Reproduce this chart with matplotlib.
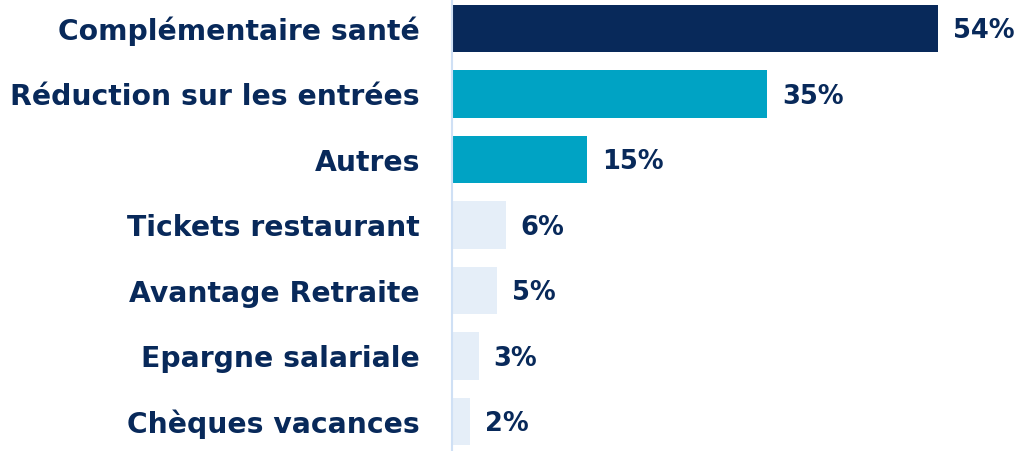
import matplotlib
matplotlib.use("Agg")
import matplotlib.pyplot as plt

categories = ["Complémentaire santé", "Réduction sur les entrées", "Autres",
              "Tickets restaurant", "Avantage Retraite", "Epargne salariale",
              "Chèques vacances"]
values = [54, 35, 15, 6, 5, 3, 2]
value_labels = ["54%", "35%", "15%", "6%", "5%", "3%", "2%"]

navy = "#08295a"
teal = "#00a3c4"
light = "#e5eef8"
colors = [navy, teal, teal, light, light, light, light]

fig = plt.figure(figsize=(10.15, 4.51), dpi=100)
ax = fig.add_axes([452/1015, 0, 1 - 452/1015, 1])
y = list(range(len(categories)))
ax.barh(y, values, height=0.72, color=colors)
ax.set_ylim(6.45, -0.435)
ax.set_xlim(0, 62.5)
for s in ["top", "right", "bottom"]:
    ax.spines[s].set_visible(False)
ax.spines["left"].set_color("#cfe0f5")
ax.spines["left"].set_linewidth(1.5)
ax.set_xticks([])
ax.set_yticks(y)
ax.set_yticklabels(categories, fontsize=20.3, fontweight="heavy", color=navy)
ax.tick_params(axis="y", length=0, pad=23)
for yi, v, lab in zip(y, values, value_labels):
    ax.annotate(lab, (v, yi), xytext=(10.5, -2), textcoords="offset points",
                va="center", ha="left", fontsize=18.5, fontweight="heavy",
                color=navy, annotation_clip=False)
fig.savefig("out.png", dpi=100)
